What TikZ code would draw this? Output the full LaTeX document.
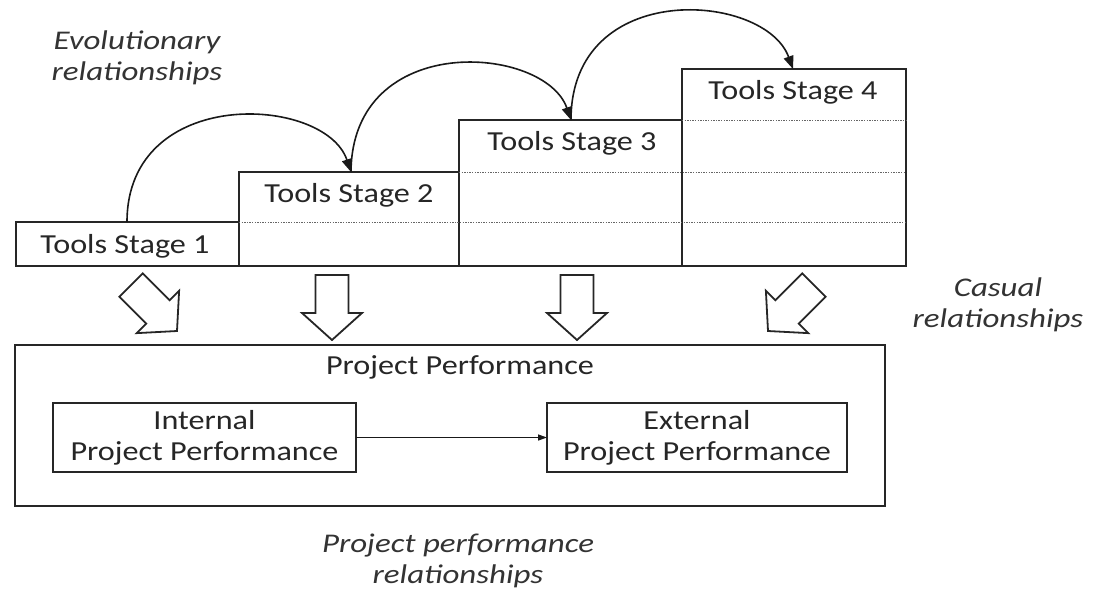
\documentclass[tikz,border=0pt]{standalone}
\usepackage{fontspec}
\setmainfont{Carlito}[FakeStretch=1.17]
\newfontfamily\annfont{Carlito}[FakeStretch=1.22]
\usetikzlibrary{arrows.meta}
\begin{document}
\begin{tikzpicture}[x=1pt,y=-1pt,
  box/.style={draw=black!85, line width=1.6pt, inner sep=0pt, outer sep=0pt},
  lbl/.style={font=\fontsize{27.5}{31}\selectfont, align=center, inner sep=0pt, text=black!85},
  ital/.style={font=\annfont\fontsize{27}{31.5}\selectfont\itshape, align=center, inner sep=0pt, text=black!80},
  dotline/.style={black!60, line width=1pt, dash pattern=on 1.3pt off 1.3pt},
  evo/.style={line width=1.6pt, draw=black!90, -{Triangle[length=13pt,width=10pt]}},
  barrow/.pic={\draw[line width=1.8pt, draw=black!85, line join=miter, fill=white] (-16.5,-65) -- (16.5,-65) -- (16.5,-27) -- (30,-27) -- (0,0) -- (-30,-27) -- (-16.5,-27) -- cycle;}
]
\useasboundingbox (0,0) rectangle (1093,590);

% stage boxes
\node[box, anchor=north west, minimum width=223pt, minimum height=44pt] (s1) at (16,222) {};
\node[box, anchor=north west, minimum width=220pt, minimum height=94pt] (s2) at (239,172) {};
\node[box, anchor=north west, minimum width=223pt, minimum height=146pt] (s3) at (459,120) {};
\node[box, anchor=north west, minimum width=224pt, minimum height=197pt] (s4) at (682,69) {};

% dotted level lines
\draw[dotline] (s1.north east) -- (s4.east |- s1.north east);
\draw[dotline] (s2.north east) -- (s4.east |- s2.north east);
\draw[dotline] (s3.north east) -- (s4.east |- s3.north east);

% stage labels
\node[lbl] (t1) at (125,246) {Tools Stage 1};
\node[lbl] (t2) at (349,195) {Tools Stage 2};
\node[lbl] (t3) at (572,143) {Tools Stage 3};
\node[lbl] (t4) at (793,92) {Tools Stage 4};

% evolutionary arcs
\coordinate (a1) at (127,222);
\coordinate (a2) at (351,172);
\coordinate (a3) at (571,120);
\coordinate (a4) at (793,69);
\draw[evo] (a1) .. controls (127,85) and (325,95) .. (a2);
\draw[evo] (a2) .. controls (352,30) and (545,45) .. (a3);
\draw[evo] (a3) .. controls (571,-22) and (765,-8) .. (a4);

% block arrows
\pic[shift={(177,331)}, rotate=45] {barrow};
\pic[shift={(332,340)}] {barrow};
\pic[shift={(577,340)}] {barrow};
\pic[shift={(768,331)}, rotate=-45] {barrow};

% project performance
\node[box, anchor=north west, minimum width=870pt, minimum height=161pt] (pp) at (15,345) {};
\node[lbl] (ppt) at (460,367) {Project Performance};
\node[box, lbl, minimum width=303pt, minimum height=69pt] (ipp) at (204.5,437.5) {Internal\\Project Performance};
\node[box, lbl, minimum width=300pt, minimum height=69pt] (epp) at (697,437.5) {External\\Project Performance};
\draw[line width=1.3pt, draw=black!90, -{Triangle[length=9pt,width=6pt]}] (ipp) -- (epp);

% italic annotations
\node[ital] (evt) at (137,58) {Evolutionary\\relationships};
\node[ital] (cas) at (998,305) {Casual\\relationships};
\node[ital] (ppr) at (458,561) {Project performance\\relationships};
\end{tikzpicture}
\end{document}
